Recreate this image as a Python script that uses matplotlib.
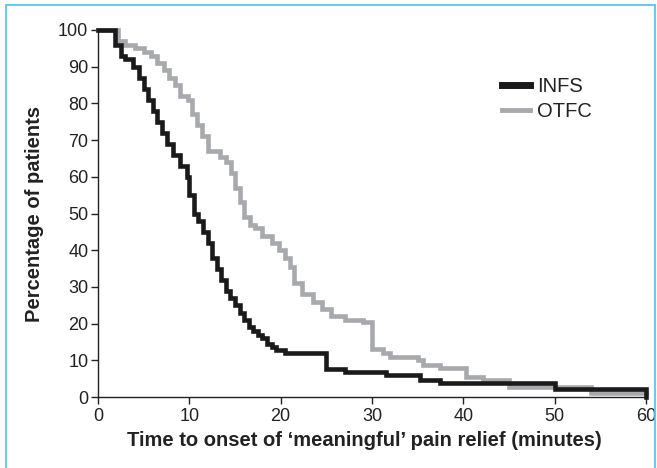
import matplotlib
matplotlib.use("Agg")
import matplotlib.pyplot as plt
from matplotlib.lines import Line2D

plt.rcParams['font.family'] = ['Liberation Sans', 'DejaVu Sans']

# INFS (black) Kaplan-Meier steps
infs_t = [0, 1.9, 2.5, 3.0, 3.8, 4.5, 5.0, 5.5, 6.0, 6.5, 7.0, 7.5, 8.2, 9.0, 9.7,
          10.0, 10.5, 11.0, 11.5, 12.0, 12.5, 13.0, 13.5, 14.0, 14.5, 15.0, 15.5,
          16.0, 16.5, 17.0, 17.5, 18.0, 18.5, 19.0, 19.5, 20.5, 25.0, 27.0, 31.5,
          35.3, 37.4, 50.0, 60.0]
infs_p = [100, 96, 93, 92, 90, 87, 84, 81, 78, 75, 72, 69, 66, 63, 60,
          55, 50, 48, 45, 42, 38, 35, 32, 29, 27, 25, 23,
          21, 19, 18, 17, 16, 14.5, 13.5, 12.8, 12, 7.5, 6.8, 6,
          4.6, 3.8, 2.2, 0]

# OTFC (grey) Kaplan-Meier steps
otfc_t = [0, 2.2, 3.0, 4.0, 5.0, 5.8, 6.5, 7.2, 7.8, 8.4, 9.0, 9.8, 10.3, 10.8,
          11.4, 12.0, 13.4, 14.0, 14.6, 15.0, 15.5, 16.0, 16.6, 17.2, 18.0, 19.0,
          19.8, 20.5, 21.0, 21.5, 22.3, 23.5, 24.5, 25.5, 27.0, 29.0, 30.0, 31.2,
          32.0, 35.0, 35.6, 37.4, 40.3, 42.2, 45.0, 54.0, 60.0]
otfc_p = [100, 97, 96, 95, 94, 93, 91, 89, 87, 85, 82, 81, 77, 74,
          71, 67, 65.5, 64, 61, 57, 53, 49, 47, 46, 44, 42,
          40, 38, 35.5, 31, 28, 26, 24, 22, 21, 20.3, 13, 12,
          11, 10, 8.7, 8, 5.4, 4.6, 2.8, 1.1, 1.1]

x_ticks = [0, 10, 20, 30, 40, 50, 60]
y_ticks = [0, 10, 20, 30, 40, 50, 60, 70, 80, 90, 100]

W, H = 657, 468
fig = plt.figure(figsize=(W / 100, H / 100), dpi=100)
ax = fig.add_axes([98 / W, 1 - 397 / H, (646 - 98) / W, (397 - 30) / H])

ax.step(otfc_t, otfc_p, where='post', color='#a7a9ac', lw=3.3,
        solid_joinstyle='miter', clip_on=False, label='OTFC', zorder=2)
ax.step(infs_t, infs_p, where='post', color='#1a1a1a', lw=3.3,
        solid_joinstyle='miter', clip_on=False, label='INFS', zorder=3)

ax.set_xlim(0, 60)
ax.set_ylim(0, 100)
ax.set_xticks(x_ticks)
ax.set_yticks(y_ticks)
ax.tick_params(direction='out', length=5, width=1, labelsize=13, pad=2, colors='#222222')
ax.tick_params(axis='x', pad=3)
for s in ['top', 'right']:
    ax.spines[s].set_visible(False)
for s in ['left', 'bottom']:
    ax.spines[s].set_linewidth(1.0)
    ax.spines[s].set_color('#222222')

ax.set_xlabel("Time to onset of \u2018meaningful\u2019 pain relief (minutes)",
              fontsize=14.5, fontweight='bold', color='#222222')
ax.set_ylabel("Percentage of patients", fontsize=14.5, fontweight='bold',
              color='#222222')
ax.xaxis.set_label_coords((364 - 98) / 548, (397 - 441) / 367, transform=ax.transAxes)
ax.yaxis.set_label_coords((35 - 98) / 548, 0.5, transform=ax.transAxes)
ax.xaxis.label.set_va('center')
ax.yaxis.label.set_va('center')

handles = [Line2D([], [], color='#1a1a1a', lw=5),
           Line2D([], [], color='#a7a9ac', lw=3.5)]
leg = ax.legend(handles, ['INFS', 'OTFC'], loc='upper left',
                bbox_to_anchor=((502 - 98) / 548, (397 - 77) / 367),
                frameon=False, fontsize=14.5, borderpad=0, borderaxespad=0,
                handlelength=1.4, handletextpad=0.35, labelspacing=0.3)
for t in leg.get_texts():
    t.set_color('#222222')

# light blue frame
bc = '#5cc6ee'
fig.add_artist(Line2D([5.5 / W, 5.5 / W], [0, 1 - 4.5 / H], color=bc, lw=1.3, transform=fig.transFigure))
fig.add_artist(Line2D([5.5 / W, 655 / W], [1 - 4.5 / H, 1 - 4.5 / H], color=bc, lw=1.3, transform=fig.transFigure))
fig.add_artist(Line2D([655 / W, 655 / W], [0, 1 - 4.5 / H], color=bc, lw=1.3, transform=fig.transFigure))

fig.savefig('out.png', dpi=100)
